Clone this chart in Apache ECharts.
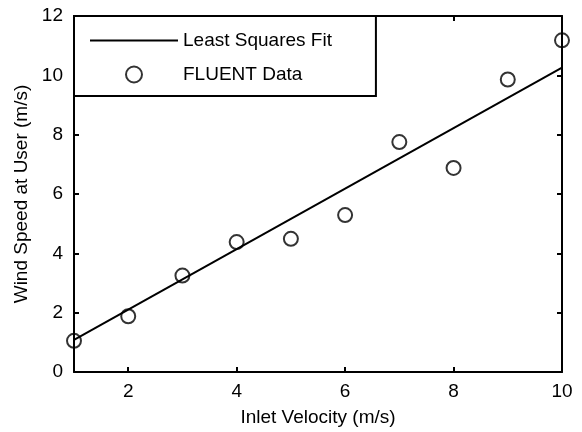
<!DOCTYPE html>
<html>
<head>
<meta charset="utf-8">
<script src="https://cdn.jsdelivr.net/npm/echarts@6/dist/echarts.min.js"></script>
<style>html,body{margin:0;padding:0;background:#fff;}#c{width:582px;height:432px;}</style>
</head>
<body>
<div id="c"></div>
<script>
var inletVelocity = [1, 2, 3, 4, 5, 6, 7, 8, 9, 10];
var windSpeed = [1.05, 1.88, 3.25, 4.38, 4.49, 5.29, 7.75, 6.88, 9.86, 11.18];
var fitX = [1, 10];
var fitY = [1.08, 10.26];
var xTicks = [2, 4, 6, 8, 10];
var yTicks = [0, 2, 4, 6, 8, 10, 12];

var FONT = '"Liberation Sans", Arial, sans-serif';
var chart = echarts.init(document.getElementById('c'));
var axisCommon = {
  axisLine: {show: true, onZero: false, lineStyle: {color: '#000', width: 2}},
  splitLine: {show: false}
};
function xAxisDef(pos, showLabel) {
  return Object.assign({}, axisCommon, {
    type: 'value', position: pos, min: 1, max: 10,
    axisTick: {show: true, inside: true, length: 5, lineStyle: {color: '#000', width: 2}, customValues: xTicks},
    axisLabel: {show: showLabel, customValues: xTicks, color: '#000', fontSize: 19, fontFamily: FONT, margin: 10},
    name: showLabel ? 'Inlet Velocity (m/s)' : '',
    nameLocation: 'middle', nameGap: 36,
    nameTextStyle: {color: '#000', fontSize: 19, fontFamily: FONT}
  });
}
function yAxisDef(pos, showLabel) {
  return Object.assign({}, axisCommon, {
    type: 'value', position: pos, min: 0, max: 12, interval: 2,
    axisTick: {show: true, inside: true, length: 5, lineStyle: {color: '#000', width: 2}},
    axisLabel: {show: showLabel, color: '#000', fontSize: 19, fontFamily: FONT, margin: 11},
    name: showLabel ? 'Wind Speed at User (m/s)' : '',
    nameLocation: 'middle', nameGap: 43,
    nameTextStyle: {color: '#000', fontSize: 19, fontFamily: FONT}
  });
}
var fitData = fitX.map(function (x, i) { return [x, fitY[i]]; });
var ptData = inletVelocity.map(function (x, i) { return [x, windSpeed[i]]; });

chart.setOption({
  animation: false,
  backgroundColor: '#fff',
  grid: {left: 74, right: 20, top: 16, bottom: 57, containLabel: false},
  xAxis: [xAxisDef('bottom', true), xAxisDef('top', false)],
  yAxis: [yAxisDef('left', true), yAxisDef('right', false)],
  legend: {
    show: true,
    orient: 'vertical', left: 74, top: 16,
    padding: [15, 44, 12, 16], itemGap: 15, itemWidth: 88, itemHeight: 16,
    symbolKeepAspect: true,
    borderColor: '#000', borderWidth: 2, borderRadius: 0, backgroundColor: '#fff',
    textStyle: {color: '#000', fontSize: 19, fontFamily: FONT},
    data: [
      {name: 'Least Squares Fit', icon: 'path://M0,0L88,0L88,2L0,2Z', itemStyle: {color: '#000', borderWidth: 0}},
      {name: 'FLUENT Data'}
    ]
  },
  series: [
    {
      name: 'Least Squares Fit', type: 'line', data: fitData,
      symbol: 'none', lineStyle: {color: '#000', width: 2}, itemStyle: {color: '#000'},
      clip: false, z: 2
    },
    {
      name: 'FLUENT Data', type: 'scatter', data: ptData,
      symbol: 'circle', symbolSize: 14, clip: false, z: 3,
      itemStyle: {color: 'rgba(0,0,0,0)', borderColor: '#000', borderWidth: 2}
    }
  ]
});
</script>
</body>
</html>
